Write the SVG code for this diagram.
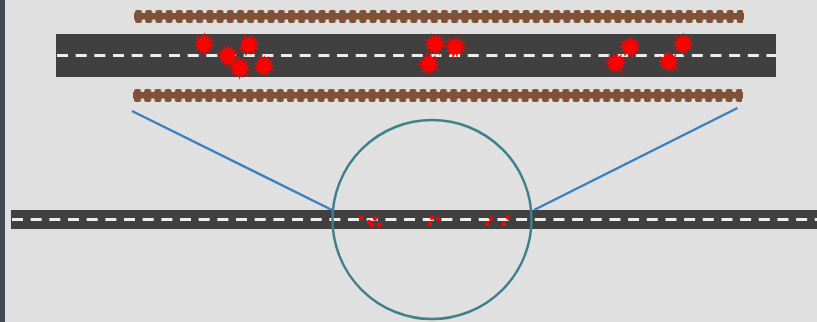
<svg xmlns="http://www.w3.org/2000/svg" width="817" height="322" viewBox="0 0 817 322">
  <style>
    .road { fill: #404040; }
    .lane { fill: none; stroke: #eeeeee; stroke-width: 3; stroke-dasharray: 11 7.67; }
    .rail { fill: none; stroke: #7f5238; stroke-width: 6.4; }
    .zoomline { fill: none; stroke: #3a7fbd; stroke-width: 2.5; }
    .lens { fill: none; stroke: #3f7f8c; stroke-width: 2.5; }
    .splat, .dot { fill: #ff0000; }
  </style>
  <defs>
    <polygon id="burst" points="0.5,-12 1.6,-6.2 4.4,-9.4 4.4,-5.2 8.8,-7.6 6,-3.2 10.8,-3 6.6,-0.8 11.8,1.6 6.4,2.2 9.2,6.6 4.4,4.6 4.6,9.6 2,6.2 0.4,12.6 -1.1,6.4 -4,10.2 -3.9,5.3 -8.2,7.8 -5.8,2.8 -10.6,2 -6.4,-0.2 -10.2,-3 -5.5,-3.3 -9.4,-9.6 -3.9,-5.5 -2.6,-9.8 -0.9,-6.2" />
    <pattern id="ties" patternUnits="userSpaceOnUse" x="135" y="10" width="10.2" height="13">
      <rect width="7" height="13" rx="2" fill="#7f5238" />
    </pattern>
    <g id="track">
      <path class="rail" d="M134 16.2H744" />
      <rect x="135" y="10" width="608" height="13" fill="url(#ties)" />
    </g>
  </defs>

  <rect width="817" height="322" fill="#e0e0e0" />
  <rect width="5" height="322" fill="#434a54" />

  <g id="track-top"><use href="#track" /></g>
  <g id="track-bottom"><use href="#track" x="-1" y="79" /></g>

  <g id="road-main">
    <rect class="road" x="56" y="34" width="720" height="43" />
    <path class="lane" d="M57 55.4H776" />
  </g>

  <g id="hits-main" class="splat">
    <use href="#burst" transform="translate(204 44)" />
    <use href="#burst" transform="translate(228 56) rotate(-25)" />
    <use href="#burst" transform="translate(249 45) rotate(20)" />
    <use href="#burst" transform="translate(240 68) rotate(180)" />
    <use href="#burst" transform="translate(264 66) rotate(160)" />
    <use href="#burst" transform="translate(435 44) rotate(-20)" />
    <use href="#burst" transform="translate(455 47) rotate(15)" />
    <use href="#burst" transform="translate(429 64) rotate(170)" />
    <use href="#burst" transform="translate(630 47) rotate(-15)" />
    <use href="#burst" transform="translate(616 63) rotate(190)" />
    <use href="#burst" transform="translate(669 62) rotate(175)" />
    <use href="#burst" transform="translate(683 44)" />
  </g>

  <g id="road-overview">
    <rect class="road" x="11" y="210" width="806" height="19" />
    <path class="lane" d="M12 219.5H817" />
  </g>

  <g id="hits-overview" class="dot">
    <circle cx="361" cy="218" r="2.2" />
    <circle cx="369" cy="222" r="2.2" />
    <circle cx="372" cy="225.5" r="2.2" />
    <circle cx="375" cy="218.5" r="2.2" />
    <circle cx="379.5" cy="224.7" r="2.2" />
    <circle cx="432" cy="217.7" r="2.2" />
    <circle cx="430" cy="224" r="2.2" />
    <circle cx="438" cy="219" r="2.2" />
    <circle cx="487" cy="223.5" r="2.2" />
    <circle cx="491" cy="218.5" r="2.2" />
    <circle cx="504" cy="223.5" r="2.2" />
    <circle cx="508" cy="217.5" r="2.2" />
  </g>

  <g id="connectors">
    <path class="zoomline" d="M132 111L332 210" />
    <path class="zoomline" d="M737.5 108L534 210" />
  </g>

  <g id="lens"><circle class="lens" cx="432" cy="219.5" r="99.5" /></g>
</svg>
